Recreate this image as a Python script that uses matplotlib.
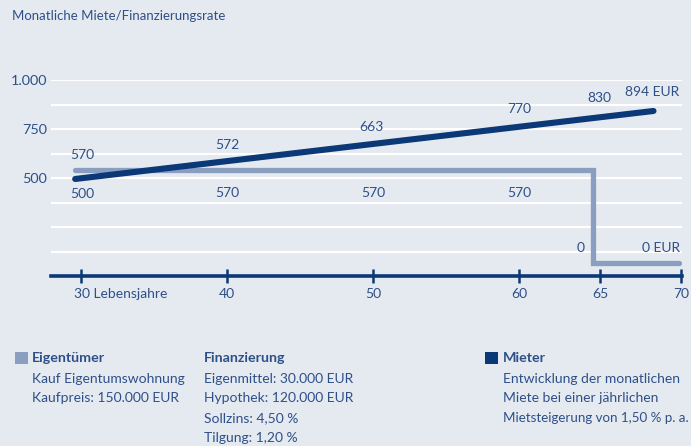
import numpy as np
import matplotlib
matplotlib.use("Agg")
import matplotlib.pyplot as plt
from matplotlib.patches import Rectangle

plt.rcParams['font.family'] = ['Lato', 'DejaVu Sans']

# ---------------- data ----------------
owner_ages = [29.6, 64.55, 64.55, 69.9]
owner_vals = [541, 541, 66, 66]
renter_ages = [29.6, 68.3]
renter_vals = [495, 842]

x_ticks = [30, 40, 50, 60, 65, 70]
x_ticklabels = ["30 Lebensjahre", "40", "50", "60", "65", "70"]
y_grid = [125, 250, 375, 500, 625, 750, 875, 1000]
y_labels = {500: "500", 750: "750", 1000: "1.000"}

label_texts = ["570", "500", "572", "570", "663", "570", "770", "570",
               "830", "0", "894 EUR", "0 EUR"]
label_ages = [30.1, 30.1, 40, 40, 49.9, 50, 60, 60, 64.94, 64.07, 69.88, 69.94]
label_vals = [617, 418, 668, 423, 760, 423, 852, 423, 908, 143, 939, 143]
label_ha = ["center"] * 9 + ["right", "right", "right"]

title = "Monatliche Miete/Finanzierungsrate"
legend_blocks = [
    ("Eigentümer", ["Kauf Eigentumswohnung", "Kaufpreis: 150.000 EUR"]),
    ("Finanzierung", ["Eigenmittel: 30.000 EUR", "Hypothek: 120.000 EUR",
                      "Sollzins: 4,50 %", "Tilgung: 1,20 %"]),
    ("Mieter", ["Entwicklung der monatlichen", "Miete bei einer jährlichen",
                "Mietsteigerung von 1,50 % p. a."]),
]

# ---------------- style ----------------
BG = "#e5e9f0"
TXT = "#2e5088"
NAVY = "#0b3877"
OWNER = "#8a9fbf"
FS = 10.0

W, H = 691, 446
fig = plt.figure(figsize=(W / 100, H / 100), dpi=100, facecolor=BG)
ax = fig.add_axes([51 / W, (H - 276) / H, (682 - 51) / W, (276 - 80) / H])
ax.set_facecolor(BG)

# piecewise scale: years after 60 are drawn wider
def fwd(a):
    return np.interp(a, [0, 60, 100], [0, 60, 60 + 40 * 1.1096])

def inv(u):
    return np.interp(u, [0, 60, 60 + 40 * 1.1096], [0, 60, 100])

ax.set_xscale('function', functions=(fwd, inv))
ax.set_xlim(27.945, 70.06)
ax.set_ylim(0, 1000)

for s in ['top', 'right', 'left']:
    ax.spines[s].set_visible(False)
ax.spines['bottom'].set_color(NAVY)
ax.spines['bottom'].set_linewidth(2.6)
ax.spines['bottom'].set_zorder(5)

ax.set_yticks(y_grid)
ax.set_yticklabels([y_labels.get(v, "") for v in y_grid])
ax.tick_params(axis='y', length=0, pad=3, labelsize=10.4, labelcolor=TXT)
ax.yaxis.grid(True, color='white', linewidth=1.6)
ax.set_axisbelow(True)

ax.set_xticks(x_ticks)
ax.set_xticklabels(x_ticklabels)
ax.xaxis.set_minor_locator(matplotlib.ticker.NullLocator())
ax.tick_params(axis='x', direction='inout', length=10, width=1.8, color=NAVY,
               pad=4, labelsize=FS, labelcolor=TXT)
first = ax.get_xticklabels()[0]
first.set_horizontalalignment('left')
first.set_transform(first.get_transform() +
                    matplotlib.transforms.ScaledTranslation(-7 / 100, 0, fig.dpi_scale_trans))

ax.plot(owner_ages, owner_vals, color=OWNER, linewidth=3.8,
        solid_capstyle='round', solid_joinstyle='miter', zorder=3, clip_on=False)
ax.plot(renter_ages, renter_vals, color=NAVY, linewidth=4.4,
        solid_capstyle='round', zorder=4, clip_on=False)

for t, a, v, ha in zip(label_texts, label_ages, label_vals, label_ha):
    ax.text(a, v, t, ha=ha, va='center', fontsize=FS, color=TXT, zorder=6)

fig.text(12 / W, 1 - 16 / H, title, ha='left', va='center', fontsize=9.5, color=TXT)

# legend area
block_x = [32, 204, 503]
squares = [(15, OWNER), None, (485, NAVY)]
line_h = 19.5
body_texts = []
for (head, lines), bx, sq in zip(legend_blocks, block_x, squares):
    fig.text(bx / W, 1 - 358 / H, head, ha='left', va='center', fontsize=FS + 0.3,
             fontweight='bold', color=TXT)
    for i, ln in enumerate(lines):
        body_texts.append(fig.text(bx / W, 1 - (379 + i * line_h) / H, ln, ha='left',
                                   va='center', fontsize=FS, color=TXT))
    if sq is not None:
        sx, col = sq
        fig.add_artist(Rectangle((sx / W, 1 - 364 / H), 13 / W, 12 / H,
                                 transform=fig.transFigure, facecolor=col,
                                 edgecolor='none'))

# shrink any legend line that would run past the right edge
fig.canvas.draw()
renderer = fig.canvas.get_renderer()
for t in body_texts:
    fs = t.get_fontsize()
    while t.get_window_extent(renderer).x1 > W - 1 and fs > 6:
        fs -= 0.1
        t.set_fontsize(fs)

fig.savefig("out.png", dpi=100, facecolor=BG)
